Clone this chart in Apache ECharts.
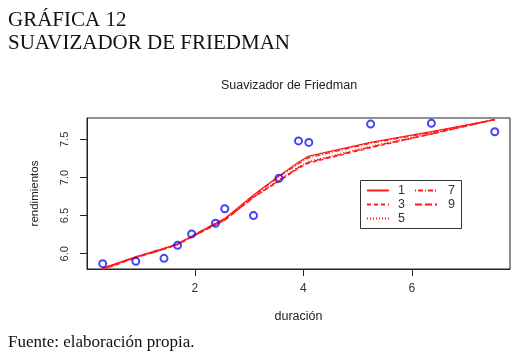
<!DOCTYPE html>
<html>
<head>
<meta charset="utf-8">
<script src="https://cdn.jsdelivr.net/npm/echarts@6/dist/echarts.min.js"></script>
<style>
html,body{margin:0;padding:0;background:#fff;}
#chart{width:525px;height:358px;}
</style>
</head>
<body>
<div id="chart"></div>
<script>
// ---- data ----
var duracion = [0.30, 0.91, 1.43, 1.68, 1.94, 2.38, 2.55, 3.08, 3.55, 3.91, 4.10, 5.24, 6.36, 7.53];
var rendimientos = [5.87, 5.90, 5.94, 6.11, 6.26, 6.40, 6.59, 6.50, 6.99, 7.48, 7.46, 7.70, 7.71, 7.60];
var suave1 = [5.81, 5.96, 6.07, 6.13, 6.23, 6.40, 6.46, 6.77, 7.02, 7.20, 7.28, 7.46, 7.60, 7.76];
var suave3 = [5.79, 5.95, 6.06, 6.12, 6.22, 6.38, 6.44, 6.74, 6.95, 7.12, 7.19, 7.39, 7.57, 7.76];
var suave5 = [5.80, 5.95, 6.06, 6.12, 6.22, 6.39, 6.45, 6.75, 6.97, 7.14, 7.21, 7.41, 7.58, 7.76];
var suave7 = [5.81, 5.96, 6.07, 6.13, 6.23, 6.40, 6.46, 6.76, 7.01, 7.18, 7.26, 7.45, 7.59, 7.76];
var suave9 = [5.80, 5.95, 6.06, 6.12, 6.22, 6.38, 6.44, 6.74, 6.96, 7.13, 7.20, 7.40, 7.57, 7.76];
var xTicks = [2, 4, 6];
var yTicks = [6.0, 6.5, 7.0, 7.5];
var spanNames = ['1', '3', '5', '7', '9'];

function pairs(ys) { return duracion.map(function (x, i) { return [x, ys[i]]; }); }

var lineTypes = ['solid', [4, 3], [1, 2], [1, 2, 5, 2], [7, 3]];
var smooths = [suave1, suave3, suave5, suave7, suave9];

var series = [{
  name: 'datos', type: 'scatter', data: pairs(rendimientos),
  symbol: 'circle', symbolSize: 7,
  itemStyle: { color: 'rgba(0,0,0,0)', borderColor: '#1515f0', borderWidth: 2 },
  z: 3
}];
smooths.forEach(function (s, k) {
  series.push({
    name: spanNames[k], type: 'line', data: pairs(s), symbol: 'none',
    lineStyle: { color: '#ff1a1a', width: 1.3, type: lineTypes[k] },
    itemStyle: { color: '#ff1a1a' },
    silent: true, z: 2
  });
});

var chart = echarts.init(document.getElementById('chart'), null, { renderer: 'canvas' });
chart.setOption({
  animation: false,
  backgroundColor: '#fff',
  title: {
    text: 'Suavizador de Friedman', left: 284, top: 74, textAlign: 'center',
    textStyle: { fontFamily: 'Liberation Sans', fontSize: 12.5, fontWeight: 'normal', color: '#222' }
  },
  grid: { left: 87, top: 118, right: 15, bottom: 89, show: true, borderColor: '#222', borderWidth: 1 },
  xAxis: {
    type: 'value', min: 0.01, max: 7.81,
    name: 'duración', nameLocation: 'middle', nameGap: 48,
    nameTextStyle: { fontFamily: 'Liberation Sans', fontSize: 12.5, color: '#222', verticalAlign: 'middle' },
    axisLine: { show: true, lineStyle: { color: '#222' } },
    axisTick: { show: true, length: 7, inside: false, customValues: xTicks, lineStyle: { color: '#222' } },
    axisLabel: { customValues: xTicks, margin: 14, fontFamily: 'Liberation Sans', fontSize: 12, color: '#333' },
    splitLine: { show: false }
  },
  yAxis: {
    type: 'value', min: 5.80, max: 7.78,
    name: 'rendimientos', nameLocation: 'middle', nameGap: 52, nameRotate: 90,
    nameTextStyle: { fontFamily: 'Liberation Sans', fontSize: 11.5, color: '#222', verticalAlign: 'middle' },
    axisLine: { show: true, lineStyle: { color: '#222' } },
    axisTick: { show: true, length: 7, customValues: yTicks, lineStyle: { color: '#222' } },
    axisLabel: {
      customValues: yTicks, rotate: 90, margin: 17, fontFamily: 'Liberation Sans', fontSize: 11, color: '#333',
      formatter: function (v) { return Number(v).toFixed(1); }
    },
    splitLine: { show: false }
  },
  legend: [{
    data: ['1', '3', '5'], orient: 'vertical', left: 366, top: 184, padding: 0,
    itemWidth: 22, itemHeight: 12, itemGap: 1, itemStyle: { opacity: 0 },
    textStyle: { fontFamily: 'Liberation Sans', fontSize: 12.5, color: '#333', padding: [0, 0, 0, 4] },
    selectedMode: false
  }, {
    data: ['7', '9'], orient: 'vertical', left: 414, top: 184, padding: 0,
    itemWidth: 22, itemHeight: 12, itemGap: 1, itemStyle: { opacity: 0 },
    textStyle: { fontFamily: 'Liberation Sans', fontSize: 12.5, color: '#333', padding: [0, 0, 0, 6] },
    selectedMode: false
  }],
  graphic: [
    { type: 'rect', left: 358, top: 178, shape: { width: 101, height: 48 },
      style: { fill: 'none', stroke: '#333', lineWidth: 1 }, z: 1 },
    { type: 'text', left: 8, top: 10, style: { text: 'GRÁFICA 12', font: '21px "Liberation Serif"', fill: '#111' } },
    { type: 'text', left: 8, top: 33, style: { text: 'SUAVIZADOR DE FRIEDMAN', font: '21px "Liberation Serif"', fill: '#111' } },
    { type: 'text', left: 8, top: 334, style: { text: 'Fuente: elaboración propia.', font: '17px "Liberation Serif"', fill: '#111' } }
  ],
  series: series
});
</script>
</body>
</html>
